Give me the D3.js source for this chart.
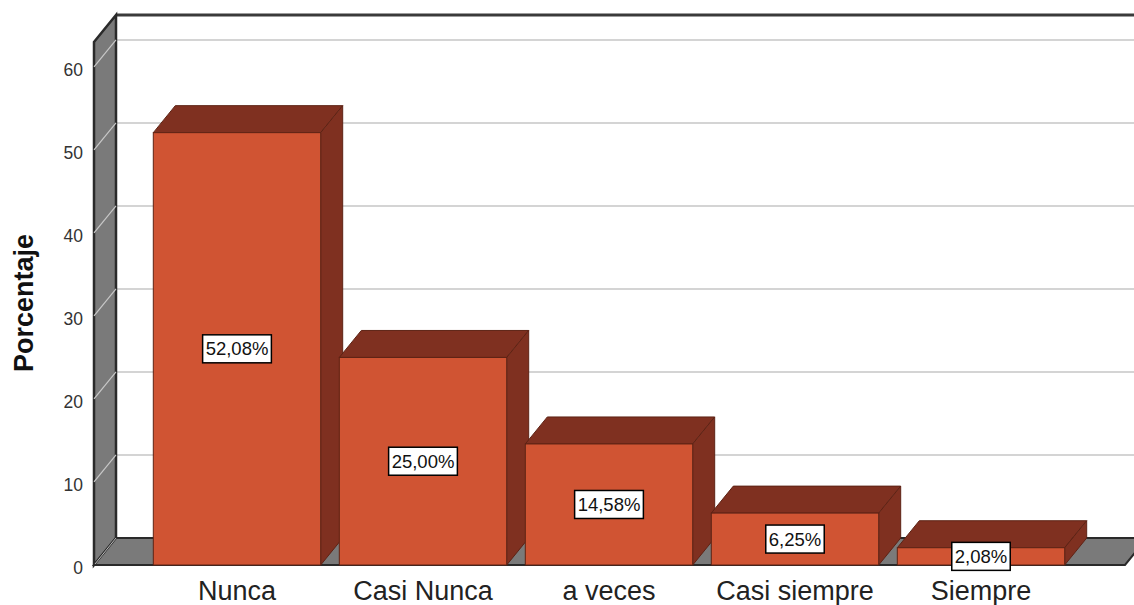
<!DOCTYPE html>
<html>
<head>
<meta charset="utf-8">
<script src="https://cdn.jsdelivr.net/npm/d3@7"></script>
<style>
  body { margin: 0; background: #fff; }
  text { font-family: "Liberation Sans", Arial, sans-serif; }
</style>
</head>
<body>
<script>
var categories = ["Nunca", "Casi Nunca", "a veces", "Casi siempre", "Siempre"];
var values = [52.08, 25.00, 14.58, 6.25, 2.08];
var yTicks = [0, 10, 20, 30, 40, 50, 60];

var W = 1134, H = 605;
var dx = 22, dy = -27;   // depth of the 3d box

var svg = d3.select("body").append("svg")
            .attr("width", W)
            .attr("height", H);

var x = d3.scaleBand()
          .domain(categories)
          .range([144, 1074])
          .paddingInner(0.1)
          .paddingOuter(0.05);

var y = d3.scaleLinear()
          .domain([0, 63])
          .range([565, 42]);

var x0 = 94, x1 = 1125;

function pts(a) { return a.map(function (p) { return p.join(","); }).join(" "); }

// back wall top border
svg.append("line")
   .attr("x1", x0 + dx).attr("y1", y(63) + dy)
   .attr("x2", W).attr("y2", y(63) + dy)
   .attr("stroke", "#3a3a3a").attr("stroke-width", 3);

// gridlines on the back wall
svg.selectAll(".grid")
   .data(yTicks.filter(function (d) { return d > 0; }))
   .enter().append("line")
   .attr("class", "grid")
   .attr("x1", x0 + dx).attr("x2", W)
   .attr("y1", function (d) { return y(d) + dy; })
   .attr("y2", function (d) { return y(d) + dy; })
   .attr("stroke", "#d4d4d4").attr("stroke-width", 2);

// left wall
svg.append("polygon")
   .attr("points", pts([[x0, y(63)], [x0 + dx, y(63) + dy], [x0 + dx, y(0) + dy], [x0, y(0)]]))
   .attr("fill", "#7a7a7a")
   .attr("stroke", "#2a2a2a").attr("stroke-width", 2.5);

// gridlines on the left wall
svg.selectAll(".wgrid")
   .data(yTicks.filter(function (d) { return d > 0; }))
   .enter().append("line")
   .attr("class", "wgrid")
   .attr("x1", x0).attr("x2", x0 + dx)
   .attr("y1", function (d) { return y(d); })
   .attr("y2", function (d) { return y(d) + dy; })
   .attr("stroke", "#c8c8c8").attr("stroke-width", 1.2);

// floor
svg.append("polygon")
   .attr("points", pts([[x0, y(0)], [x0 + dx, y(0) + dy], [x1 + dx, y(0) + dy], [x1, y(0)]]))
   .attr("fill", "#7a7a7a")
   .attr("stroke", "#2a2a2a").attr("stroke-width", 2);

svg.append("line")
   .attr("x1", x0 + 1).attr("y1", y(0) - 1)
   .attr("x2", x0 + dx).attr("y2", y(0) + dy)
   .attr("stroke", "#bbbbbb").attr("stroke-width", 1);

// bars
var front = "#d05433", dark = "#7f3020", edge = "#5e2315";
var bars = svg.selectAll(".bar")
              .data(values)
              .enter().append("g")
              .attr("class", "bar");

bars.each(function (d, i) {
    var g = d3.select(this);
    var bx = x(categories[i]), bw = x.bandwidth();
    var top = y(d), bot = y(0);
    g.append("polygon")
     .attr("points", pts([[bx, top], [bx + dx, top + dy], [bx + bw + dx, top + dy], [bx + bw, top]]))
     .attr("fill", dark).attr("stroke", edge).attr("stroke-width", 1);
    g.append("polygon")
     .attr("points", pts([[bx + bw, top], [bx + bw + dx, top + dy], [bx + bw + dx, bot + dy], [bx + bw, bot]]))
     .attr("fill", dark).attr("stroke", edge).attr("stroke-width", 1);
    g.append("rect")
     .attr("x", bx).attr("y", top)
     .attr("width", bw).attr("height", bot - top)
     .attr("fill", front).attr("stroke", edge).attr("stroke-width", 1);
});

// value labels
bars.each(function (d, i) {
    var g = d3.select(this);
    var cx = x(categories[i]) + x.bandwidth() / 2;
    var cy = (y(d) + y(0)) / 2;
    var txt = d.toFixed(2).replace(".", ",") + "%";
    var t = g.append("text")
             .attr("x", cx).attr("y", cy + 6.5)
             .attr("text-anchor", "middle")
             .attr("font-size", 18.5)
             .attr("fill", "#111")
             .text(txt);
    var bb = t.node().getBBox();
    g.insert("rect", "text")
     .attr("x", bb.x - 3).attr("y", cy - 14)
     .attr("width", bb.width + 6).attr("height", 28)
     .attr("fill", "#fff").attr("stroke", "#000").attr("stroke-width", 1.5);
});

// y tick labels
svg.selectAll(".ylab")
   .data(yTicks)
   .enter().append("text")
   .attr("class", "ylab")
   .attr("x", 83)
   .attr("y", function (d) { return y(d) + 9; })
   .attr("text-anchor", "end")
   .attr("font-size", 17.5)
   .attr("fill", "#333")
   .text(function (d) { return d; });

// x labels
svg.selectAll(".xlab")
   .data(categories)
   .enter().append("text")
   .attr("class", "xlab")
   .attr("x", function (d) { return x(d) + x.bandwidth() / 2; })
   .attr("y", 600)
   .attr("text-anchor", "middle")
   .attr("font-size", 27)
   .attr("fill", "#222")
   .text(function (d) { return d; });

// axis title
svg.append("text")
   .attr("transform", "translate(33,303) rotate(-90)")
   .attr("text-anchor", "middle")
   .attr("font-size", 27)
   .attr("font-weight", "bold")
   .attr("fill", "#111")
   .text("Porcentaje");
</script>
</body>
</html>
